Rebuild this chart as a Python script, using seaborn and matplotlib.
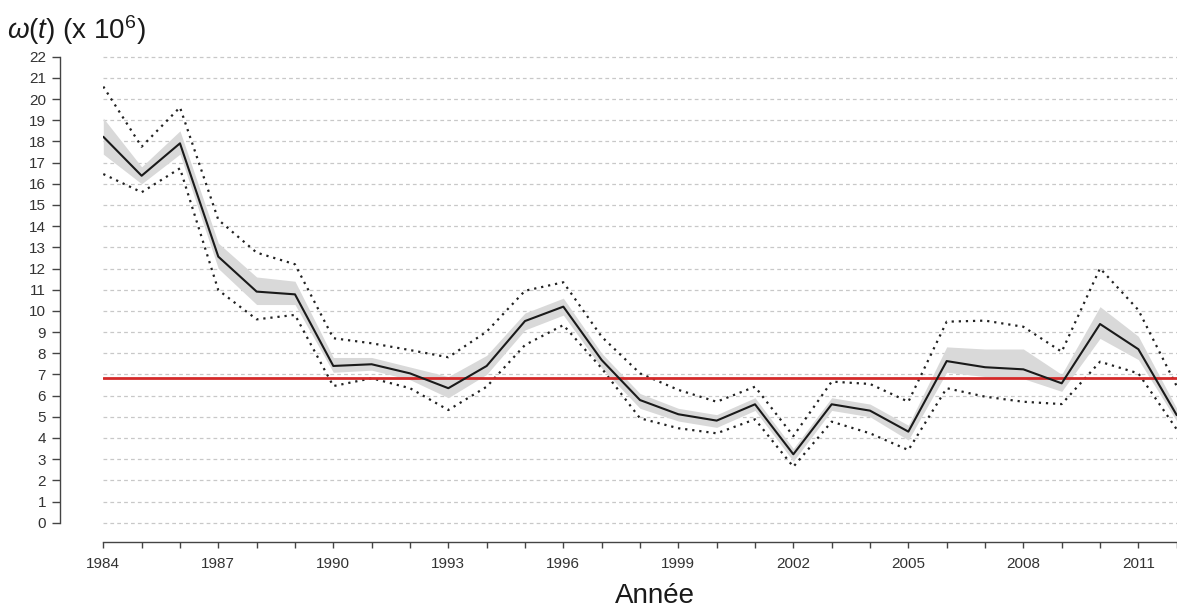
import numpy as np
import pandas as pd
import matplotlib
matplotlib.use("Agg")
import matplotlib.pyplot as plt
import seaborn as sns

years = list(range(1984, 2013))
omega = [18.22, 16.38, 17.91, 12.56, 10.91, 10.78, 7.40, 7.48, 7.05, 6.35,
         7.40, 9.52, 10.20, 7.68, 5.79, 5.12, 4.82, 5.59, 3.23, 5.59,
         5.29, 4.30, 7.63, 7.34, 7.24, 6.58, 9.38, 8.19, 5.08]
upper = [20.59, 17.75, 19.61, 14.30, 12.75, 12.20, 8.71, 8.47, 8.15, 7.81,
         9.02, 10.95, 11.35, 8.78, 7.05, 6.27, 5.71, 6.42, 4.09, 6.66,
         6.55, 5.71, 9.49, 9.54, 9.25, 8.07, 12.01, 10.04, 6.45]
lower = [16.46, 15.60, 16.73, 10.98, 9.60, 9.81, 6.45, 6.82, 6.35, 5.32,
         6.42, 8.39, 9.33, 7.29, 4.93, 4.46, 4.22, 4.88, 2.64, 4.77,
         4.22, 3.43, 6.35, 5.95, 5.71, 5.60, 7.60, 7.05, 4.41]
band_hi = [19.1, 16.8, 18.5, 13.2, 11.6, 11.4, 7.8, 7.8, 7.35, 6.9,
           7.9, 9.9, 10.6, 8.0, 6.1, 5.4, 5.1, 5.9, 3.5, 5.9,
           5.6, 4.6, 8.3, 8.2, 8.2, 7.0, 10.2, 8.8, 5.4]
band_lo = [17.4, 16.0, 17.4, 12.0, 10.3, 10.3, 7.1, 7.2, 6.75, 5.9,
           7.0, 9.1, 9.8, 7.3, 5.4, 4.8, 4.5, 5.3, 2.9, 5.3,
           5.0, 3.9, 7.1, 6.9, 6.8, 6.2, 8.7, 7.7, 4.8]
reference_level = 6.85
y_ticks = list(range(0, 23))
x_label_years = list(range(1984, 2013, 3))

sns.set_style("white")
plt.rcParams["font.family"] = ["Liberation Sans", "DejaVu Sans"]
plt.rcParams["mathtext.fontset"] = "custom"
plt.rcParams["mathtext.rm"] = "Liberation Sans"
plt.rcParams["mathtext.it"] = "Liberation Sans:italic"

df = pd.DataFrame({"year": years, "omega": omega, "upper": upper,
                   "lower": lower, "hi": band_hi, "lo": band_lo})

fig = plt.figure(figsize=(11.77, 6.08), dpi=100)
ax = fig.add_axes([103.3 / 1177, 1 - 522.7 / 608, (1176.7 - 103.3) / 1177, (522.7 - 56.7) / 608])

# grid lines
for yv in y_ticks:
    ax.axhline(yv, color="#c8c8c8", lw=0.9, ls=(0, (3, 2.5)), zorder=0, clip_on=False)

ax.fill_between(df["year"], df["lo"], df["hi"], color="#d9d9d9", lw=0, zorder=1)
sns.lineplot(data=df, x="year", y="upper", ax=ax, color="#222222", lw=1.6,
             linestyle=(0, (1, 2.2)), zorder=2)
sns.lineplot(data=df, x="year", y="lower", ax=ax, color="#222222", lw=1.6,
             linestyle=(0, (1, 2.2)), zorder=2)
ax.plot([years[0], years[-1]], [reference_level, reference_level], color="#d42a2a", lw=2.0, zorder=3)
sns.lineplot(data=df, x="year", y="omega", ax=ax, color="#1a1a1a", lw=1.5, zorder=4)

ax.set_xlim(1984, 2012)
ax.set_ylim(0, 22)
ax.set_yticks(y_ticks)
ax.set_yticklabels([str(v) for v in y_ticks])
ax.set_xticks(years)
ax.set_xticklabels([str(y) if y in x_label_years else "" for y in years])

for s in ["top", "right"]:
    ax.spines[s].set_visible(False)
ax.spines["left"].set_position(("outward", 31.2))
ax.spines["bottom"].set_position(("outward", 14.0))
ax.spines["left"].set_bounds(0, 22)
ax.spines["bottom"].set_bounds(1984, 2012)
for s in ["left", "bottom"]:
    ax.spines[s].set_color("#444444")
    ax.spines[s].set_linewidth(1.0)

ax.tick_params(axis="y", direction="out", length=5.5, width=1.0, color="#444444",
               labelsize=11, labelcolor="#333333", pad=4.5, left=True)
ax.tick_params(axis="x", direction="out", length=4.5, width=1.0, color="#444444",
               labelsize=11, labelcolor="#333333", pad=6.5, bottom=True)

ax.set_xlabel("")
ax.set_ylabel("")
fig.text(655 / 1177, 1 - 596 / 608, "Année", ha="center", va="center", fontsize=20, color="#1a1a1a")
fig.text(7 / 1177, 1 - 30 / 608, r"$\mathit{\omega}(\mathit{t})$ (x 10$^6$)", ha="left", va="center",
         fontsize=20, color="#1a1a1a")

fig.savefig("out.png", dpi=100)
